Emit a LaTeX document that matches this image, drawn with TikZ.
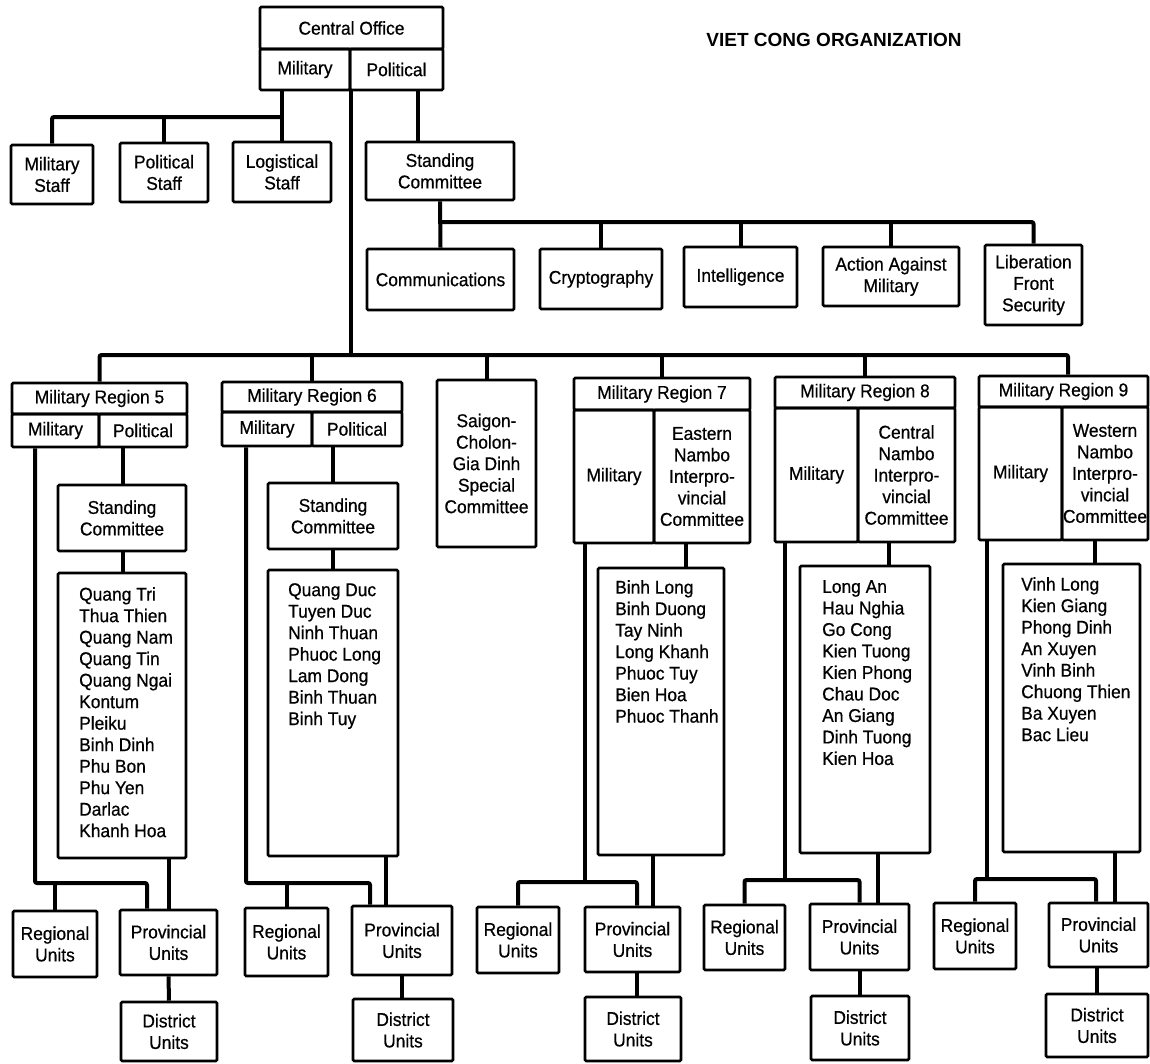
\documentclass[tikz,border=0pt]{standalone}
\usepackage{fontspec}
\setmainfont{Liberation Sans}[FakeStretch=0.94,FakeBold=0.6]
\newfontfamily\titlefont{Liberation Sans}[FakeStretch=1.0]
\usetikzlibrary{fit,calc}
\newcommand\bodyfont{\fontsize{18.5}{21.5}\selectfont}
\tikzset{
  obox/.style={draw, line width=2.6pt, rounded corners=1.2pt, inner sep=0pt},
  otext/.style={inner sep=0pt, align=center, font=\bodyfont},
  conn/.style={line width=4pt, rounded corners=2pt},
  lst/.style={inner sep=0pt, align=left, anchor=north west, font=\bodyfont},
}
\newcommand\mybox[4]{\node[obox, fit={(#2) (#3)}] (#1) {};
  \node[otext] (#1-t) at (#1.center) {#4};}
\begin{document}
\begin{tikzpicture}[x=1pt,y=-1pt]
\fill[white] (0,0) rectangle (1150,1063);
\useasboundingbox (0,0) rectangle (1150,1063);

% title
\node[font=\titlefont\bfseries\fontsize{19}{22}\selectfont] (title) at (834,40) {VIET CONG ORGANIZATION};

% central office
\mybox{co}{260,7}{443,49}{Central Office}
\mybox{cmil}{260,49}{350,90}{Military}
\mybox{cpol}{350,49}{443,90}{Political}

% staffs
\mybox{ms}{11,145}{93,204}{Military\\Staff}
\mybox{ps}{120,143}{208,202}{Political\\Staff}
\mybox{lgs}{233,142}{331,202}{Logistical\\Staff}
\mybox{sc}{366,142}{514,200}{Standing\\Committee}

% committees
\mybox{comm}{367,249}{514,310}{Communications}
\mybox{cry}{540,249}{662,309}{Cryptography}
\mybox{intel}{684,247}{797,307}{Intelligence}
\mybox{act}{823,247}{959,306}{Action Against\\Military}
\mybox{lib}{985,245}{1082,325}{Liberation\\Front\\Security}

% regions
\mybox{mr5}{12,383}{187,414}{Military Region 5}
\mybox{m5mil}{12,414}{99,447}{Military}
\mybox{m5pol}{99,414}{187,447}{Political}
\mybox{sc5}{58,485}{186,551}{Standing\\Committee}
\mybox{l5}{58,573}{186,858}{}
\node[lst] (t5) at (79,587) {Quang Tri\\Thua Thien\\Quang Nam\\Quang Tin\\Quang Ngai\\Kontum\\Pleiku\\Binh Dinh\\Phu Bon\\Phu Yen\\Darlac\\Khanh Hoa};

\mybox{mr6}{222,382}{402,412}{Military Region 6}
\mybox{m6mil}{222,412}{312,446}{Military}
\mybox{m6pol}{312,412}{402,446}{Political}
\mybox{sc6}{268,483}{398,549}{Standing\\Committee}
\mybox{l6}{268,570}{398,856}{}
\node[lst] (t6) at (288,583) {Quang Duc\\Tuyen Duc\\Ninh Thuan\\Phuoc Long\\Lam Dong\\Binh Thuan\\Binh Tuy};

\mybox{sg}{437,380}{536,547}{Saigon-\\Cholon-\\Gia Dinh\\Special\\Committee}

\mybox{mr7}{574,378}{750,410}{Military Region 7}
\mybox{m7mil}{574,410}{654,543}{Military}
\mybox{m7pol}{654,410}{750,543}{Eastern\\Nambo\\Interpro-\\vincial\\Committee}
\mybox{l7}{598,568}{724,855}{}
\node[lst] (t7) at (615,580) {Binh Long\\Binh Duong\\Tay Ninh\\Long Khanh\\Phuoc Tuy\\Bien Hoa\\Phuoc Thanh};

\mybox{mr8}{775,377}{955,408}{Military Region 8}
\mybox{m8mil}{775,408}{858,542}{Military}
\mybox{m8pol}{858,408}{955,542}{Central\\Nambo\\Interpro-\\vincial\\Committee}
\mybox{l8}{800,566}{930,853}{}
\node[lst] (t8) at (822,580) {Long An\\Hau Nghia\\Go Cong\\Kien Tuong\\Kien Phong\\Chau Doc\\An Giang\\Dinh Tuong\\Kien Hoa};

\mybox{mr9}{979,376}{1148,407}{Military Region 9}
\mybox{m9mil}{979,407}{1062,540}{Military}
\mybox{m9pol}{1062,407}{1148,540}{Western\\Nambo\\Interpro-\\vincial\\Committee}
\mybox{l9}{1003,564}{1140,852}{}
\node[lst] (t9) at (1021,577) {Vinh Long\\Kien Giang\\Phong Dinh\\An Xuyen\\Vinh Binh\\Chuong Thien\\Ba Xuyen\\Bac Lieu};

% units
\mybox{r5}{13,911}{97,977}{Regional\\Units}
\mybox{p5}{120,910}{217,975}{Provincial\\Units}
\mybox{d5}{121,1002}{217,1061}{District\\Units}
\mybox{r6}{245,908}{328,976}{Regional\\Units}
\mybox{p6}{352,906}{452,975}{Provincial\\Units}
\mybox{d6}{353,999}{453,1061}{District\\Units}
\mybox{r7}{477,907}{559,973}{Regional\\Units}
\mybox{p7}{585,907}{680,972}{Provincial\\Units}
\mybox{d7}{585,997}{681,1061}{District\\Units}
\mybox{r8}{704,905}{785,970}{Regional\\Units}
\mybox{p8}{810,904}{909,970}{Provincial\\Units}
\mybox{d8}{811,996}{909,1060}{District\\Units}
\mybox{r9}{934,903}{1016,969}{Regional\\Units}
\mybox{p9}{1049,903}{1148,967}{Provincial\\Units}
\mybox{d9}{1046,994}{1148,1057}{District\\Units}

% ---- connectors: top
\draw[conn] (cmil.south -| lgs.north) -- (lgs.north);
\draw[conn] (ms.north) -- (ms.north |- 0,117) -- (lgs.north |- 0,117);
\draw[conn] (ps.north) -- (ps.north |- 0,117);
\draw[conn] (cpol.south -| 418,0) -- (sc.north -| 418,0);
\draw[conn] (cmil.south east) -- (cmil.south east |- 0,355);
% committees
\draw[conn] (sc.south) -- (comm.north);
\draw[conn] (sc.south |- 0,222) -- (lib.north |- 0,222) -- (lib.north);
\draw[conn] (cry.north) -- (cry.north |- 0,222);
\draw[conn] (intel.north) -- (intel.north |- 0,222);
\draw[conn] (act.north) -- (act.north |- 0,222);
% regions bus
\draw[conn] (mr5.north) -- (mr5.north |- 0,355) -- (1068,355) -- (mr9.north -| 1068,0);
\draw[conn] (mr6.north) -- (mr6.north |- 0,355);
\draw[conn] (sg.north) -- (sg.north |- 0,355);
\draw[conn] (mr7.north) -- (mr7.north |- 0,355);
\draw[conn] (mr8.north) -- (mr8.north |- 0,355);
% region 5
\draw[conn] (m5mil.south -| 35,0) -- (35,883) -- (147,883) -- (p5.north -| 147,0);
\draw[conn] (r5.north) -- (r5.north |- 0,883);
\draw[conn] (m5pol.south -| 123,0) -- (sc5.north -| 123,0);
\draw[conn] (sc5.south -| 123,0) -- (l5.north -| 123,0);
\draw[conn] (l5.south -| p5.north) -- (p5.north);
\draw[conn] (p5.south) -- (d5.north);
% region 6
\draw[conn] (m6mil.south -| 246,0) -- (246,883) -- (370,883) -- (p6.north -| 370,0);
\draw[conn] (r6.north) -- (r6.north |- 0,883);
\draw[conn] (m6pol.south -| sc6.north) -- (sc6.north);
\draw[conn] (sc6.south) -- (l6.north -| sc6.south);
\draw[conn] (l6.south -| 386,0) -- (p6.north -| 386,0);
\draw[conn] (p6.south) -- (d6.north -| p6.south);
% region 7
\draw[conn] (m7mil.south -| 585,0) -- (585,882);
\draw[conn] (r7.north) -- (r7.north |- 0,882) -- (637,882) -- (p7.north -| 637,0);
\draw[conn] (m7pol.south -| 686,0) -- (l7.north -| 686,0);
\draw[conn] (l7.south -| 653,0) -- (p7.north -| 653,0);
\draw[conn] (p7.south -| 637,0) -- (d7.north -| 637,0);
% region 8
\draw[conn] (m8mil.south -| 785,0) -- (785,880);
\draw[conn] (r8.north) -- (r8.north |- 0,880) -- (p8.north |- 0,880) -- (p8.north);
\draw[conn] (m8pol.south -| 889,0) -- (l8.north -| 889,0);
\draw[conn] (l8.south -| 878,0) -- (p8.north -| 878,0);
\draw[conn] (p8.south) -- (d8.north -| p8.south);
% region 9
\draw[conn] (m9mil.south -| 987,0) -- (987,879);
\draw[conn] (r9.north) -- (r9.north |- 0,879) -- (1096,879) -- (p9.north -| 1096,0);
\draw[conn] (m9pol.south -| 1095,0) -- (l9.north -| 1095,0);
\draw[conn] (l9.south -| 1115,0) -- (p9.north -| 1115,0);
\draw[conn] (p9.south -| 1097,0) -- (d9.north -| 1097,0);
\end{tikzpicture}
\end{document}
